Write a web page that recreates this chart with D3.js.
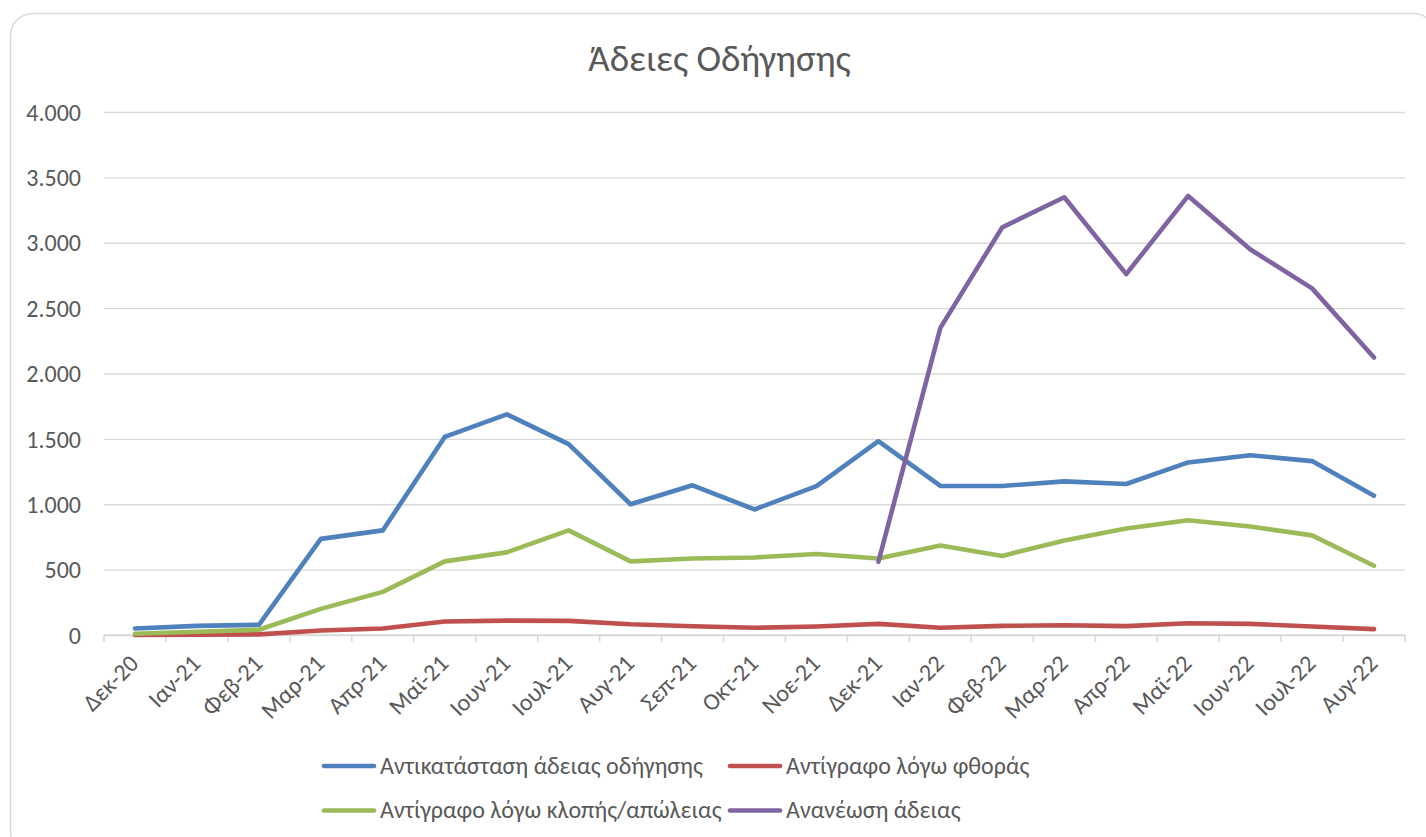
<!DOCTYPE html>
<html>
<head>
<meta charset="utf-8">
<script src="https://cdn.jsdelivr.net/npm/d3@7"></script>
<style>
  html, body { margin: 0; padding: 0; background: #fff; }
  svg { display: block; }
  text { font-family: Carlito, Calibri, "Liberation Sans", sans-serif; fill: #595959; }
</style>
</head>
<body>
<svg id="chart" width="1426" height="837"></svg>
<script>
const title = "Άδειες Οδήγησης";
const categories = ["Δεκ-20","Ιαν-21","Φεβ-21","Μαρ-21","Απρ-21","Μαϊ-21","Ιουν-21","Ιουλ-21","Αυγ-21","Σεπ-21","Οκτ-21","Νοε-21","Δεκ-21","Ιαν-22","Φεβ-22","Μαρ-22","Απρ-22","Μαϊ-22","Ιουν-22","Ιουλ-22","Αυγ-22"];
const yTicks = [0, 500, 1000, 1500, 2000, 2500, 3000, 3500, 4000];
const seriesNames = ["Αντικατάσταση άδειας οδήγησης", "Αντίγραφο λόγω φθοράς", "Αντίγραφο λόγω κλοπής/απώλειας", "Ανανέωση άδειας"];
const seriesColors = ["#4F81BD", "#C0504D", "#9BBB59", "#8064A2"];
const replacement = [50, 70, 78, 735, 800, 1515, 1688, 1460, 1000, 1145, 960, 1138, 1482, 1140, 1140, 1175, 1155, 1320, 1375, 1330, 1065];
const damageCopy = [0, 2, 5, 35, 50, 103, 110, 108, 82, 67, 55, 65, 85, 55, 70, 75, 68, 90, 85, 65, 45];
const theftCopy = [10, 25, 40, 200, 330, 563, 632, 800, 563, 585, 593, 620, 585, 685, 605, 723, 815, 877, 830, 762, 530];
const renewal = [null, null, null, null, null, null, null, null, null, null, null, null, 560, 2349, 3118, 3348, 2760, 3358, 2950, 2651, 2122];
const seriesValues = [replacement, damageCopy, theftCopy, renewal];

const svg = d3.select("#chart");
const plot = {left: 104, right: 1405, top: 112, bottom: 635};

// chart border
svg.append("rect")
  .attr("x", 10.5).attr("y", 13.5)
  .attr("width", 1425).attr("height", 840)
  .attr("rx", 22).attr("ry", 22)
  .attr("fill", "#fff").attr("stroke", "#d9d9d9").attr("stroke-width", 1.5);

// title
svg.append("text")
  .attr("x", 719.5).attr("y", 70.5)
  .attr("text-anchor", "middle")
  .style("font-size", "37px")
  .text(title);

const x = d3.scaleBand().domain(categories).range([plot.left, plot.right]).padding(0);
const y = d3.scaleLinear().domain([0, 4000]).range([plot.bottom, plot.top]);

const fmt = v => d3.format(",")(v).replace(/,/g, ".");

// gridlines + y labels
const yAxis = d3.axisLeft(y).tickValues(yTicks).tickSize(-(plot.right - plot.left)).tickPadding(23).tickFormat(fmt);
const gy = svg.append("g").attr("transform", `translate(${plot.left},0)`).call(yAxis);
gy.select(".domain").remove();
gy.selectAll(".tick line").attr("stroke", "#d9d9d9").attr("stroke-width", 1.3);
gy.selectAll(".tick text").style("font-size", "24px").style("font-family", "Carlito, Calibri, sans-serif").attr("fill", "#595959").attr("dy", "0.34em");

// x axis
const tickXs = d3.range(categories.length + 1).map(i => plot.left + i * x.bandwidth());
const gx = svg.append("g");
gx.append("line")
  .attr("x1", plot.left).attr("x2", plot.right)
  .attr("y1", plot.bottom).attr("y2", plot.bottom)
  .attr("stroke", "#d9d9d9").attr("stroke-width", 1.6);
gx.selectAll("line.tk").data(tickXs).join("line").attr("class", "tk")
  .attr("x1", d => d).attr("x2", d => d)
  .attr("y1", plot.bottom).attr("y2", plot.bottom + 7)
  .attr("stroke", "#d9d9d9").attr("stroke-width", 1.6);
gx.selectAll("text.xl").data(categories).join("text").attr("class", "xl")
  .attr("text-anchor", "end")
  .attr("transform", d => `translate(${x(d) + x.bandwidth() / 2 + 5},${plot.bottom + 30}) rotate(-45)`)
  .style("font-size", "24px")
  .text(d => d);

// lines
const line = d3.line()
  .defined(d => d.v !== null)
  .x(d => x(d.c) + x.bandwidth() / 2)
  .y(d => y(d.v));

seriesValues.forEach((vals, i) => {
  const data = categories.map((c, j) => ({c, v: vals[j]}));
  svg.append("path")
    .datum(data)
    .attr("fill", "none")
    .attr("stroke", seriesColors[i])
    .attr("stroke-width", 4.6)
    .attr("stroke-linejoin", "round")
    .attr("stroke-linecap", "round")
    .attr("d", line);
});

// legend
const legendItems = [
  {name: seriesNames[0], color: seriesColors[0], x: 322, y: 766},
  {name: seriesNames[1], color: seriesColors[1], x: 728, y: 766},
  {name: seriesNames[2], color: seriesColors[2], x: 322, y: 810.5},
  {name: seriesNames[3], color: seriesColors[3], x: 728, y: 810.5}
];
const lg = svg.append("g");
legendItems.forEach(it => {
  lg.append("line")
    .attr("x1", it.x + 2).attr("x2", it.x + 52)
    .attr("y1", it.y).attr("y2", it.y)
    .attr("stroke", it.color).attr("stroke-width", 4.6).attr("stroke-linecap", "round");
  lg.append("text")
    .attr("x", it.x + 58).attr("y", it.y + 7.5)
    .style("font-size", "24px")
    .text(it.name);
});
</script>
</body>
</html>
